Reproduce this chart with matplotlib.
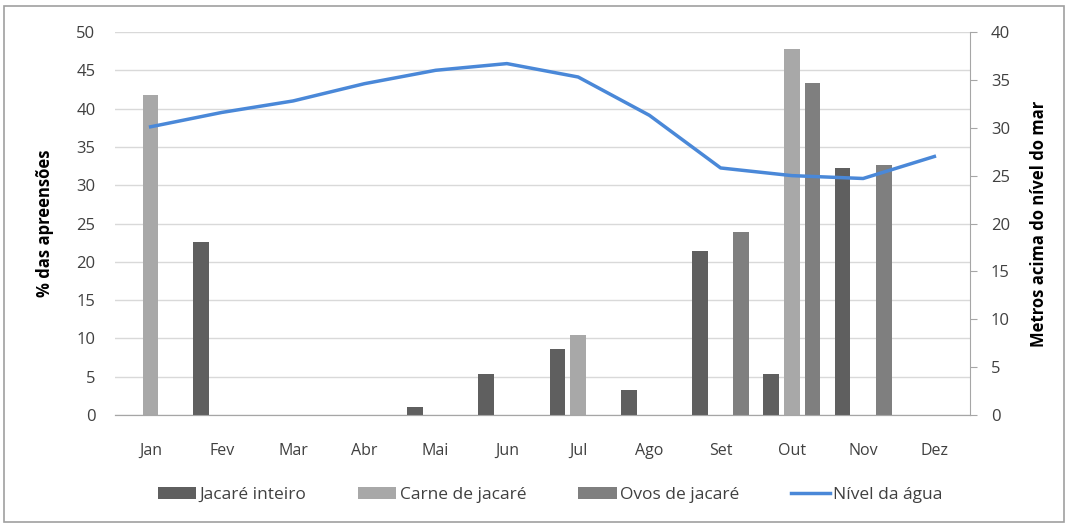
import numpy as np
import matplotlib
matplotlib.use("Agg")
import matplotlib.pyplot as plt
from matplotlib.patches import Rectangle

plt.rcParams.update({
    "font.family": ["Open Sans", "DejaVu Sans"],
    "font.size": 10,
})

meses = ["Jan", "Fev", "Mar", "Abr", "Mai", "Jun", "Jul", "Ago", "Set", "Out", "Nov", "Dez"]
jacare_inteiro = [0, 22.6, 0, 0, 1.1, 5.4, 8.6, 3.3, 21.4, 5.4, 32.2, 0]
carne_jacare = [41.8, 0, 0, 0, 0, 0, 10.4, 0, 0, 47.8, 0, 0]
ovos_jacare = [0, 0, 0, 0, 0, 0, 0, 0, 23.9, 43.4, 32.7, 0]
nivel_agua = [30.1, 31.6, 32.8, 34.6, 36.0, 36.7, 35.3, 31.3, 25.8, 25.0, 24.7, 27.0]

C = {"inteiro": "#5f5f5f", "carne": "#a8a8a8", "ovos": "#7f7f7f",
     "linha": "#4a88d8", "grid": "#d9d9d9", "eixo": "#a6a6a6", "texto": "#404040"}

fig = plt.figure(figsize=(10.68, 5.24), dpi=100)
ax = fig.add_axes([115 / 1068, 1 - 415 / 524, 855 / 1068, 383 / 524])
ax2 = ax.twinx()

x = np.arange(len(meses))
w = 0.22
off = 0.29
ax.bar(x - off, jacare_inteiro, w, color=C["inteiro"], label="Jacaré inteiro", zorder=3)
ax.bar(x, carne_jacare, w, color=C["carne"], label="Carne de jacaré", zorder=3)
ax.bar(x + off, ovos_jacare, w, color=C["ovos"], label="Ovos de jacaré", zorder=3)
ax2.plot(x, nivel_agua, color=C["linha"], linewidth=2.5, label="Nível da água", zorder=4)

ax.set_xlim(-0.5, 11.5)
ax.set_ylim(0, 50)
ax.set_yticks(range(0, 51, 5))
ax2.set_ylim(0, 40)
ax2.set_yticks(range(0, 41, 5))
ax.set_xticks(x)
ax.set_xticklabels(meses)

ax.yaxis.grid(True, color=C["grid"], linewidth=1, zorder=0)
ax.set_axisbelow(True)
for a in (ax, ax2):
    for s in ("top", "left", "right"):
        a.spines[s].set_visible(False)
    a.spines["bottom"].set_color(C["eixo"])
ax2.spines["right"].set_visible(True)
ax2.spines["right"].set_color(C["eixo"])

ax.tick_params(axis="y", length=0, pad=14, labelsize=12, labelcolor=C["texto"])
ax.tick_params(axis="x", length=0, pad=20, labelsize=11.5, labelcolor=C["texto"])
ax2.tick_params(axis="y", length=5, color=C["eixo"], pad=10, labelsize=12, labelcolor=C["texto"])

ax.set_ylabel("% das apreensões", fontsize=12, fontweight="bold", labelpad=16)
ax2.set_ylabel("Metros acima do nível do mar", fontsize=12, fontweight="bold", labelpad=14)

h1, l1 = ax.get_legend_handles_labels()
h2, l2 = ax2.get_legend_handles_labels()
fig.legend(h1 + h2, l1 + l2, loc="center", bbox_to_anchor=(0.515, 1 - 495 / 524),
           ncol=4, frameon=False, fontsize=12.5, handlelength=2.2, handletextpad=0.2,
           columnspacing=3.0, labelcolor=C["texto"])

fig.patches.append(Rectangle((0.004, 0.004), 0.992, 0.985, transform=fig.transFigure,
                             fill=False, edgecolor="#a0a0a0", linewidth=1.2))

fig.savefig("out.png", dpi=100)
